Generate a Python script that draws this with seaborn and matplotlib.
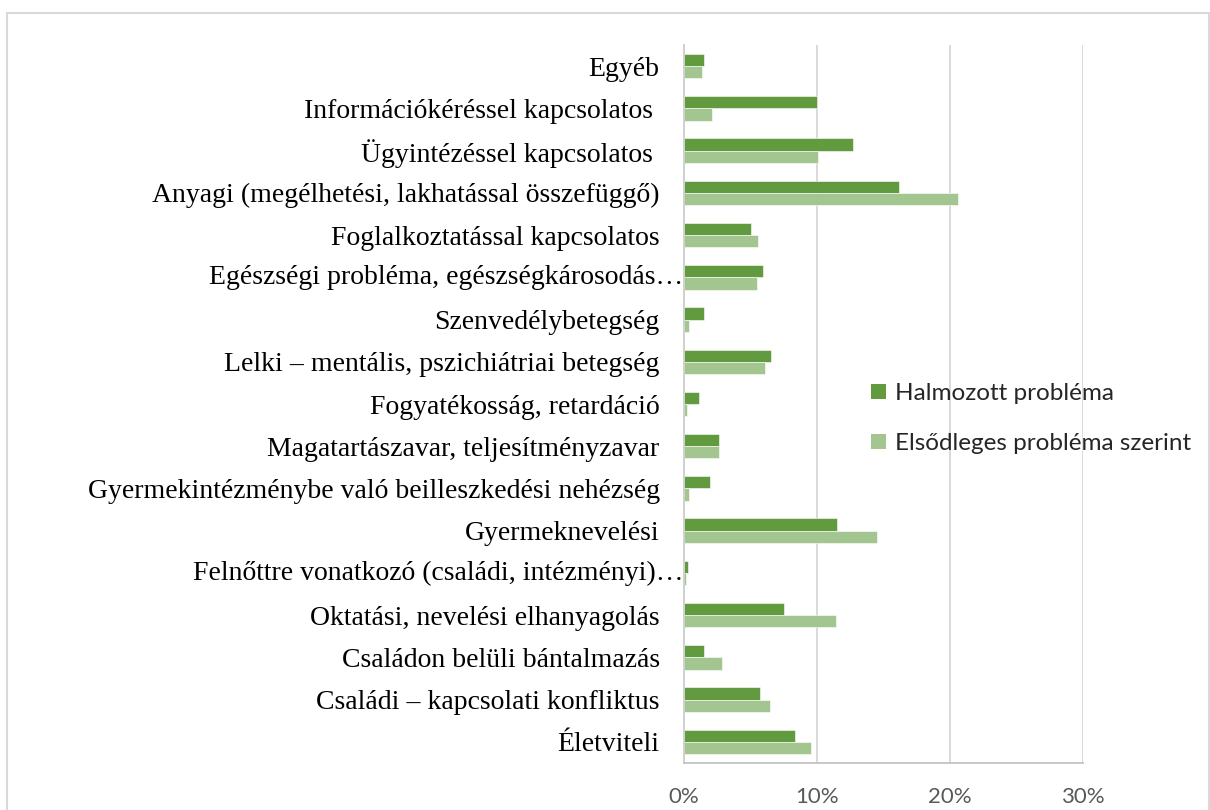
import matplotlib
matplotlib.use("Agg")
import matplotlib.pyplot as plt
import matplotlib.transforms as mtransforms
from matplotlib.patches import Rectangle
from matplotlib.ticker import FuncFormatter
import seaborn as sns
import pandas as pd

categories = [
    "Egyéb",
    "Információkéréssel kapcsolatos ",
    "Ügyintézéssel kapcsolatos ",
    "Anyagi (megélhetési, lakhatással összefüggő)",
    "Foglalkoztatással kapcsolatos",
    "Egészségi probléma, egészségkárosodás…",
    "Szenvedélybetegség",
    "Lelki – mentális, pszichiátriai betegség",
    "Fogyatékosság, retardáció",
    "Magatartászavar, teljesítményzavar",
    "Gyermekintézménybe való beilleszkedési nehézség",
    "Gyermeknevelési",
    "Felnőttre vonatkozó (családi, intézményi)…",
    "Oktatási, nevelési elhanyagolás",
    "Családon belüli bántalmazás",
    "Családi – kapcsolati konfliktus",
    "Életviteli",
]
halmozott = [1.5, 10.0, 12.7, 16.2, 5.0, 5.95, 1.5, 6.55, 1.1, 2.6, 1.95,
             11.5, 0.3, 7.55, 1.5, 5.75, 8.35]
elsodleges = [1.35, 2.1, 10.1, 20.6, 5.55, 5.5, 0.35, 6.1, 0.2, 2.65, 0.35,
              14.5, 0.15, 11.45, 2.85, 6.5, 9.55]
series_names = ["Halmozott probléma", "Elsődleges probléma szerint"]
x_ticks = [0, 10, 20, 30]

df = pd.DataFrame({
    "cat": categories * 2,
    "val": halmozott + elsodleges,
    "series": [series_names[0]] * len(categories) + [series_names[1]] * len(categories),
})

sns.set_style("white")
plt.rcParams["font.family"] = ["Liberation Serif", "DejaVu Serif"]

W, H = 1210, 810
fig = plt.figure(figsize=(W / 100, H / 100), dpi=100)
ax = fig.add_axes([684 / W, 1 - 763 / H, (1083 - 684) / W, (763 - 45) / H])

palette = {series_names[0]: "#629b3f", series_names[1]: "#a3c58f"}
sns.barplot(data=df, y="cat", x="val", hue="series", hue_order=series_names,
            order=categories, palette=palette, orient="h", width=0.58,
            saturation=1, edgecolor="white", linewidth=0.4, ax=ax, legend=True)

ax.set_xlim(0, 30)
ax.set_xticks(x_ticks)
ax.xaxis.set_major_formatter(FuncFormatter(lambda v, p: f"{v:.0f}%"))
ax.set_xlabel("")
ax.set_ylabel("")
ax.grid(axis="x", color="#d9d9d9", linewidth=1.4)
ax.set_axisbelow(True)
for s in ["top", "right"]:
    ax.spines[s].set_visible(False)
ax.spines["left"].set_color("#d0d0d0")
ax.spines["left"].set_linewidth(1.4)
ax.spines["bottom"].set_color("#bfbfbf")
ax.spines["bottom"].set_linewidth(1.2)

ax.tick_params(axis="x", length=0, pad=17.5, labelsize=16, labelcolor="#595959")
for lab in ax.get_xticklabels():
    lab.set_fontfamily(["Lato", "DejaVu Sans"])

ax.tick_params(axis="y", length=0, pad=17.5, labelsize=20, labelcolor="black")
ylabels = []
for c in categories:
    ylabels.append("" if c.endswith("…") else c)
ax.set_yticks(range(len(categories)))
ax.set_yticklabels(ylabels)
trans = mtransforms.blended_transform_factory(ax.transAxes, ax.transData)
for i, c in enumerate(categories):
    if c.endswith("…"):
        ax.text(-0.002, i, c, transform=trans, ha="right", va="center",
                fontsize=20, color="black")

leg = ax.legend(loc="upper left", bbox_to_anchor=(871 / W, 1 - 383 / H),
                bbox_transform=fig.transFigure, frameon=False,
                prop={"family": ["Lato", "DejaVu Sans"], "size": 17.5},
                handlelength=0.6, handleheight=0.6, handletextpad=0.4,
                labelspacing=1.2, borderpad=0, borderaxespad=0)
for h in leg.legend_handles:
    h.set_edgecolor("none")

fig.add_artist(Rectangle((7 / W, -0.1), (1209 - 7) / W, 1.1 - 13 / H,
                         transform=fig.transFigure, fill=False,
                         edgecolor="#d9d9d9", linewidth=1.5))

fig.savefig("out.png", dpi=100)
